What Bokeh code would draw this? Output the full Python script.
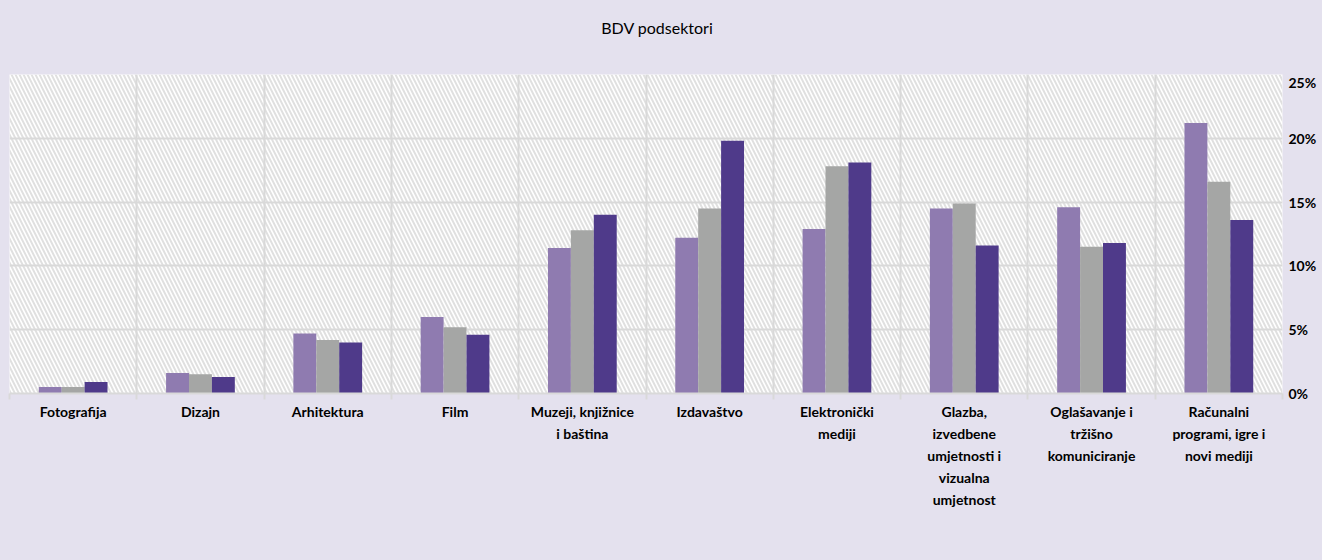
from bokeh.plotting import figure
from bokeh.layouts import column
from bokeh.models import (ColumnDataSource, LinearAxis, FixedTicker, BoxAnnotation, Div,
                          Legend, LegendItem, NumeralTickFormatter, Range1d)
from bokeh.transform import dodge
from bokeh.embed import file_html
from bokeh.resources import INLINE

title_text = "BDV podsektori"
categories = ["Fotografija", "Dizajn", "Arhitektura", "Film", "Muzeji, knjižnice\ni baština",
              "Izdavaštvo", "Elektronički\nmediji",
              "Glazba,\nizvedbene\numjetnosti i\nvizualna\numjetnost",
              "Oglašavanje i\ntržišno\nkomuniciranje", "Računalni\nprogrami, igre i\nnovi mediji"]
years = ["2012.", "2015.", "2019."]
v2012 = [0.009, 0.013, 0.040, 0.046, 0.140, 0.198, 0.181, 0.116, 0.118, 0.136]
v2015 = [0.005, 0.015, 0.042, 0.052, 0.128, 0.145, 0.178, 0.149, 0.115, 0.166]
v2019 = [0.005, 0.016, 0.047, 0.060, 0.114, 0.122, 0.129, 0.145, 0.146, 0.212]
y_ticks = [0, 0.05, 0.10, 0.15, 0.20, 0.25]

BG = "#e4e1ee"
C2012 = "#4f3a8a"
C2015 = "#a5a6a5"
C2019 = "#8f7bb0"
FONT = "Lato"

xc = [i + 0.5 for i in range(len(categories))]
src = ColumnDataSource(dict(x=xc, v2012=v2012, v2015=v2015, v2019=v2019))

title_div = Div(text=title_text, width=1314, height=73, margin=0,
                styles={"font-family": FONT, "font-size": "16px", "color": "#000000",
                        "text-align": "center", "padding-top": "17px", "box-sizing": "border-box"})

p = figure(frame_width=1273, frame_height=319, output_backend="svg", toolbar_location=None,
           x_range=Range1d(0, len(categories)), y_range=Range1d(0, 0.25),
           background_fill_color="white", border_fill_color=BG,
           min_border_left=9, min_border_right=40, min_border_top=1, min_border_bottom=10,
           x_axis_location=None, y_axis_location=None, outline_line_color=None)

hatch = BoxAnnotation(fill_alpha=0, line_color=None, hatch_pattern="\\", hatch_color="#e0e0e0",
                      hatch_scale=8, hatch_weight=2, level="image")
p.add_layout(hatch)

w = 0.18
r19 = p.vbar(x=dodge("x", -w), top="v2019", width=w, source=src, fill_color=C2019, line_color=None)
r15 = p.vbar(x=dodge("x", 0), top="v2015", width=w, source=src, fill_color=C2015, line_color=None)
r12 = p.vbar(x=dodge("x", w), top="v2012", width=w, source=src, fill_color=C2012, line_color=None)

# grids
p.xgrid.ticker = FixedTicker(ticks=list(range(len(categories) + 1)))
p.xgrid.grid_line_color = "#d9d9d9"
p.xgrid.grid_line_width = 2
p.ygrid.ticker = FixedTicker(ticks=y_ticks)
p.ygrid.grid_line_color = "#d9d9d9"
p.ygrid.grid_line_width = 2

# boundary tick marks directly below the frame
xb = LinearAxis(ticker=FixedTicker(ticks=list(range(len(categories) + 1))))
xb.major_label_text_font_size = "0px"
xb.major_label_text_color = None
xb.major_label_standoff = 0
xb.axis_line_color = "#d9d9d9"
xb.axis_line_width = 2
xb.major_tick_line_color = "#d9d9d9"
xb.major_tick_line_width = 2
xb.major_tick_out = 6
xb.major_tick_in = 0
xb.minor_tick_line_color = None

# category labels: one axis per text line, so each axis is a single line tall
lines_per_cat = [c.split("\n") for c in categories]
max_lines = max(len(l) for l in lines_per_cat)
label_axes = []
for i in range(max_lines):
    ticks = [x for x, l in zip(xc, lines_per_cat) if len(l) > i]
    overrides = {x: l[i] for x, l in zip(xc, lines_per_cat) if len(l) > i}
    ax = LinearAxis(ticker=FixedTicker(ticks=ticks), major_label_overrides=overrides)
    ax.axis_line_color = None
    ax.major_tick_line_color = None
    ax.minor_tick_line_color = None
    ax.major_tick_out = 0
    ax.major_tick_in = 0
    ax.major_label_text_font = FONT
    ax.major_label_text_font_style = "bold"
    ax.major_label_text_font_size = "14px"
    ax.major_label_text_color = "#000000"
    ax.major_label_standoff = 3 if i == 0 else 2
    label_axes.append(ax)

# right y axis
ya = LinearAxis(ticker=FixedTicker(ticks=y_ticks), formatter=NumeralTickFormatter(format="0%"))
ya.axis_line_color = None
ya.major_tick_line_color = None
ya.minor_tick_line_color = None
ya.major_label_text_font = FONT
ya.major_label_text_font_style = "bold"
ya.major_label_text_font_size = "14px"
ya.major_label_text_color = "#000000"
ya.major_label_standoff = 0
p.add_layout(ya, "right")

legend = Legend(items=[LegendItem(label=years[0], renderers=[r12]),
                       LegendItem(label=years[1], renderers=[r15]),
                       LegendItem(label=years[2], renderers=[r19])],
                orientation="horizontal", location="center",
                background_fill_alpha=0, border_line_color=None,
                label_text_font=FONT, label_text_font_style="bold", label_text_font_size="14px",
                glyph_width=10, glyph_height=10, label_standoff=3, spacing=18,
                padding=0, margin=20)
p.below = [xb] + label_axes + [legend]

layout = column(title_div, p, spacing=0, styles={"background-color": BG})

html = file_html(layout, INLINE)
html = html.replace("<body>", '<body style="background-color:%s;overflow:hidden">' % BG, 1)
open("out.html", "w").write(html)
